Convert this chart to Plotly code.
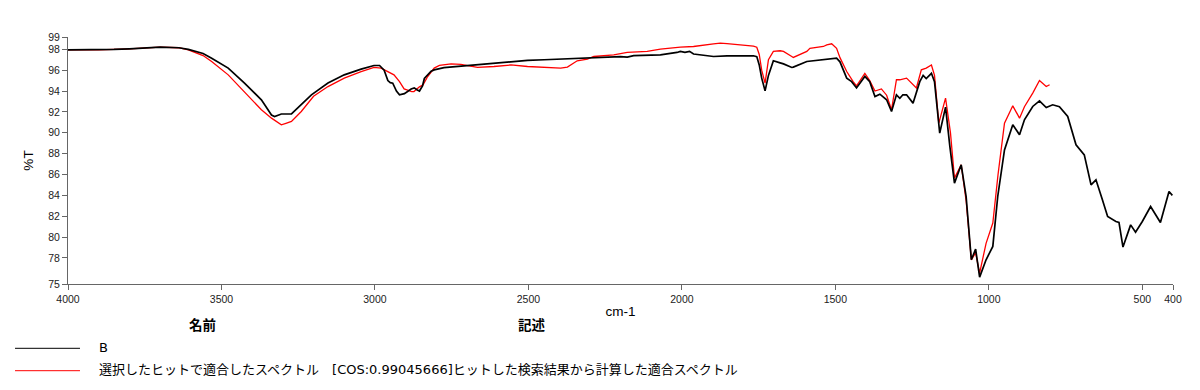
import plotly.graph_objects as go

# ---------------- data ----------------
wn_B = [4000, 3900, 3850, 3800, 3737, 3700, 3639, 3608, 3560, 3532, 3478, 3425, 3370, 3337, 3327,
        3305, 3272, 3240, 3207, 3153, 3100, 3045, 3003, 2985, 2970, 2958, 2950, 2942, 2930, 2920,
        2904, 2882, 2872, 2862, 2855, 2845, 2839, 2817, 2807, 2775, 2720, 2666, 2612, 2557, 2503,
        2449, 2395, 2330, 2287, 2200, 2178, 2157, 2100, 2070, 2016, 2005, 1990, 1975, 1962, 1929,
        1897, 1853, 1810, 1767, 1756, 1748, 1740, 1729, 1718, 1702, 1680, 1669, 1642, 1637, 1593,
        1539, 1507, 1496, 1485, 1474, 1463, 1447, 1431, 1404, 1388, 1371, 1355, 1333, 1317, 1301,
        1290, 1280, 1268, 1247, 1225, 1214, 1204, 1187, 1177, 1160, 1141, 1127, 1112, 1090, 1074,
        1057, 1043, 1030, 1009, 987, 971, 949, 922, 900, 884, 857, 835, 813, 792, 770, 743, 716,
        689, 667, 651, 630, 613, 586, 576, 563, 538, 522, 500, 473, 441, 413, 402]
T_B = [97.95, 97.95, 98.0, 98.05, 98.15, 98.2, 98.15, 98.0, 97.6, 97.15, 96.2, 94.76, 93.16, 91.7, 91.56,
       91.8, 91.8, 92.7, 93.64, 94.76, 95.55, 96.1, 96.45, 96.45, 96.0, 95.0, 94.8, 94.75, 94.0, 93.64,
       93.75, 94.2, 94.3, 94.1, 94.0, 94.5, 95.2, 95.9, 96.03, 96.25, 96.4, 96.5, 96.67, 96.8, 96.93,
       97.0, 97.06, 97.1, 97.15, 97.3, 97.25, 97.4, 97.45, 97.47, 97.7, 97.8, 97.7, 97.8, 97.55, 97.4,
       97.31, 97.38, 97.38, 97.38, 97.3, 96.5, 95.24, 94.02, 95.5, 96.9, 96.7, 96.6, 96.26, 96.29, 96.83,
       97.0, 97.15, 97.15, 96.8, 96.0, 95.24, 94.9, 94.3, 95.4, 94.9, 93.48, 93.7, 93.16, 92.04, 93.64,
       93.3, 93.64, 93.64, 92.84, 94.9, 95.5, 95.2, 95.7, 94.9, 89.96, 92.46, 88.7, 85.17, 86.93, 83.89,
       77.82, 78.84, 76.16, 77.82, 79.1, 83.89, 88.36, 90.76, 89.8, 91.24, 92.52, 93.06, 92.42, 92.68, 92.5, 91.56, 88.84,
       87.88, 85.0, 85.49, 83.57, 81.97, 81.49, 81.4, 79.04, 81.17, 80.47, 81.49, 82.93, 81.4, 84.37, 84.0]

wn_fit = [4000, 3900, 3800, 3737, 3700, 3639, 3608, 3560, 3532, 3478, 3425, 3370, 3337, 3305, 3290,
          3272, 3240, 3200, 3153, 3100, 3045, 3003, 2980, 2960, 2938, 2920, 2905, 2880, 2873, 2855,
          2843, 2830, 2817, 2807, 2790, 2752, 2720, 2666, 2612, 2557, 2503, 2449, 2395, 2373, 2341,
          2308, 2287, 2222, 2178, 2113, 2070, 2005, 1962, 1897, 1875, 1853, 1810, 1767, 1756, 1748,
          1740, 1729, 1718, 1702, 1680, 1669, 1642, 1637, 1593, 1583, 1539, 1528, 1512, 1496, 1485,
          1474, 1463, 1442, 1431, 1404, 1388, 1371, 1350, 1333, 1317, 1301, 1290, 1268, 1247, 1236,
          1220, 1204, 1187, 1177, 1163, 1141, 1125, 1112, 1090, 1074, 1057, 1043, 1030, 1009, 987,
          970, 949, 922, 900, 884, 857, 835, 813, 802]
T_fit = [97.95, 97.95, 98.05, 98.15, 98.2, 98.15, 97.95, 97.4, 96.83, 95.55, 93.95, 92.2, 91.4, 90.76, 90.9,
         91.08, 92.04, 93.5, 94.43, 95.24, 95.87, 96.26, 96.2, 95.87, 95.55, 94.9, 94.2, 93.95, 93.95, 94.4,
         94.6, 95.3, 95.87, 96.2, 96.45, 96.6, 96.55, 96.26, 96.35, 96.5, 96.35, 96.26, 96.2, 96.3, 96.9,
         97.06, 97.31, 97.47, 97.7, 97.8, 98.02, 98.2, 98.27, 98.53, 98.6, 98.55, 98.43, 98.3, 98.2, 97.5,
         96.0, 94.76, 97.0, 97.8, 97.86, 97.8, 97.31, 97.22, 97.8, 98.1, 98.27, 98.43, 98.53, 98.1, 97.2,
         96.5, 95.87, 94.9, 94.5, 95.7, 95.0, 94.0, 94.2, 93.6, 92.2, 95.08, 95.08, 95.24, 94.6, 94.3,
         96.03, 96.2, 96.5, 95.5, 90.92, 93.32, 90.0, 85.65, 86.93, 83.5, 77.82, 78.5, 76.54, 79.4, 81.34,
         86.0, 90.92, 92.58, 91.4, 92.5, 93.8, 95.01, 94.43, 94.6]

x_ticks = [4000, 3500, 3000, 2500, 2000, 1500, 1000, 500, 400]
y_range = [75.5, 99.18]
y_ticks = [75.5, 78, 80, 82, 84, 86, 88, 90, 92, 94, 96, 98, 99.18]
y_ticktext = ["75", "78", "80", "82", "84", "86", "88", "90", "92", "94", "96", "98", "99"]

name_B = "B"
name_fit = "選択したヒットで適合したスペクトル\u2003[COS:0.99045666]ヒットした検索結果から計算した適合スペクトル"
x_title = "cm-1"
y_title = "%T"
info_labels = ["名前", "記述"]

# ---------------- layout constants (pixels) ----------------
W, H = 1200, 390
PL, PR, PT, PB = 68, 1173.5, 37, 284


def px_x(px):
    return (px - PL) / (PR - PL)


def px_y(py):
    return (PB - py) / (PB - PT)


LATIN = "Liberation Sans, Arial, sans-serif"
CJK = "DejaVu Sans, Noto Sans CJK JP, sans-serif"

fig = go.Figure()
fig.add_trace(go.Scatter(x=wn_fit, y=T_fit, mode="lines", name=name_fit,
                         line=dict(color="#ff0000", width=1.3), showlegend=False))
fig.add_trace(go.Scatter(x=wn_B, y=T_B, mode="lines", name=name_B,
                         line=dict(color="#000000", width=1.7), showlegend=False))

axis_common = dict(showgrid=False, zeroline=False, showline=True, linecolor="#666666", linewidth=1,
                   ticks="outside", ticklen=5, tickcolor="#666666", tickwidth=1,
                   tickfont=dict(family=LATIN, size=10.5, color="#222222"))

fig.update_xaxes(range=[4000, 400], tickmode="array", tickvals=x_ticks,
                 ticktext=[str(v) for v in x_ticks],
                 title=dict(text=x_title, font=dict(family=LATIN, size=13.5, color="#000000"), standoff=2),
                 **axis_common)
fig.update_yaxes(range=y_range, tickmode="array", tickvals=y_ticks, ticktext=y_ticktext,
                 title=dict(text=y_title, font=dict(family=LATIN, size=13.5, color="#000000"), standoff=11),
                 **axis_common)

annotations = [
    dict(text=info_labels[0], x=px_x(203), y=px_y(324), xref="paper", yref="paper",
         xanchor="center", yanchor="middle", showarrow=False,
         font=dict(family="Noto Sans CJK JP", size=13.5, color="#000000", weight="bold")),
    dict(text=info_labels[1], x=px_x(532.5), y=px_y(324), xref="paper", yref="paper",
         xanchor="center", yanchor="middle", showarrow=False,
         font=dict(family="Noto Sans CJK JP", size=13.5, color="#000000", weight="bold")),
    dict(text=name_B, x=px_x(97), y=px_y(347.5), xref="paper", yref="paper",
         xanchor="left", yanchor="middle", showarrow=False,
         font=dict(family=CJK, size=13, color="#000000")),
    dict(text=name_fit, x=px_x(97), y=px_y(369.5), xref="paper", yref="paper",
         xanchor="left", yanchor="middle", showarrow=False,
         font=dict(family=CJK, size=13, color="#000000")),
]

shapes = [
    dict(type="line", xref="paper", yref="paper", x0=px_x(15), x1=px_x(80),
         y0=px_y(348.3), y1=px_y(348.3), line=dict(color="#000000", width=1)),
    dict(type="line", xref="paper", yref="paper", x0=px_x(15), x1=px_x(80),
         y0=px_y(370.7), y1=px_y(370.7), line=dict(color="#ff0000", width=1)),
]

fig.update_layout(
    template="none",
    width=W, height=H,
    margin=dict(l=PL, r=W - PR, t=PT, b=H - PB, pad=0),
    paper_bgcolor="white", plot_bgcolor="white",
    showlegend=False,
    annotations=annotations,
    shapes=shapes,
    font=dict(family=LATIN, color="#000000"),
)

fig.write_html("out.html", config={"displayModeBar": False},
               post_script="document.body.style.margin='0';document.body.style.padding='0';")
